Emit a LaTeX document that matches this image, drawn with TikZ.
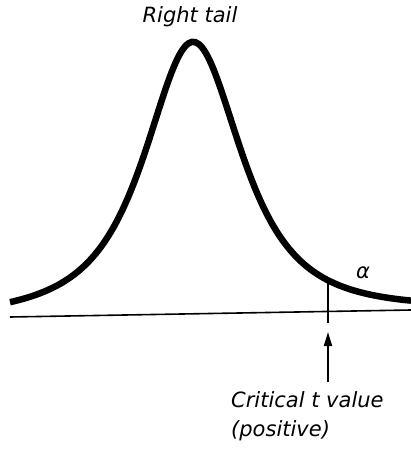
\documentclass[tikz,border=0pt]{standalone}
\usepackage{fontspec}
\setmainfont{DejaVu Sans}
\usetikzlibrary{arrows.meta,positioning}

\tikzset{lbl/.style={font=\fontsize{21}{29}\selectfont\itshape, inner sep=0pt}}

\begin{document}
\begin{tikzpicture}[x=1pt,y=-1pt,
  declare function={base(\x)=317-(\x-10)*7/401; tdens(\x)=272/(1+((\x-193)/75)^2)^1.5;}]
\useasboundingbox (0,0) rectangle (411,450);

% axis and density curve
\coordinate (axl) at (10,317);
\coordinate (axr) at (411,310);
\draw[line width=1.6pt] (axl) -- (axr);
\draw[line width=6.5pt, smooth, samples=120, domain=10:411] plot (\x,{base(\x)-tdens(\x)});

% critical value
\coordinate (crit) at (328,{base(328)-tdens(328)+3});
\coordinate (critb) at (328,323);
\draw[line width=1.1pt] (crit) -- (critb);
\coordinate (arrtail) at (328,382);
\coordinate (arrhead) at (328,332);
\draw[line width=1.6pt,-{Triangle[length=14pt,width=8pt]}] (arrtail) -- (arrhead);

% labels
\node[lbl] (title) at (190,17) {Right tail};
\node[lbl] (alpha) at (363,273) {α};
\node[lbl, align=left, anchor=north west] (critlbl) at (231,391) {Critical \textit{t} value\\(positive)};
\end{tikzpicture}
\end{document}
